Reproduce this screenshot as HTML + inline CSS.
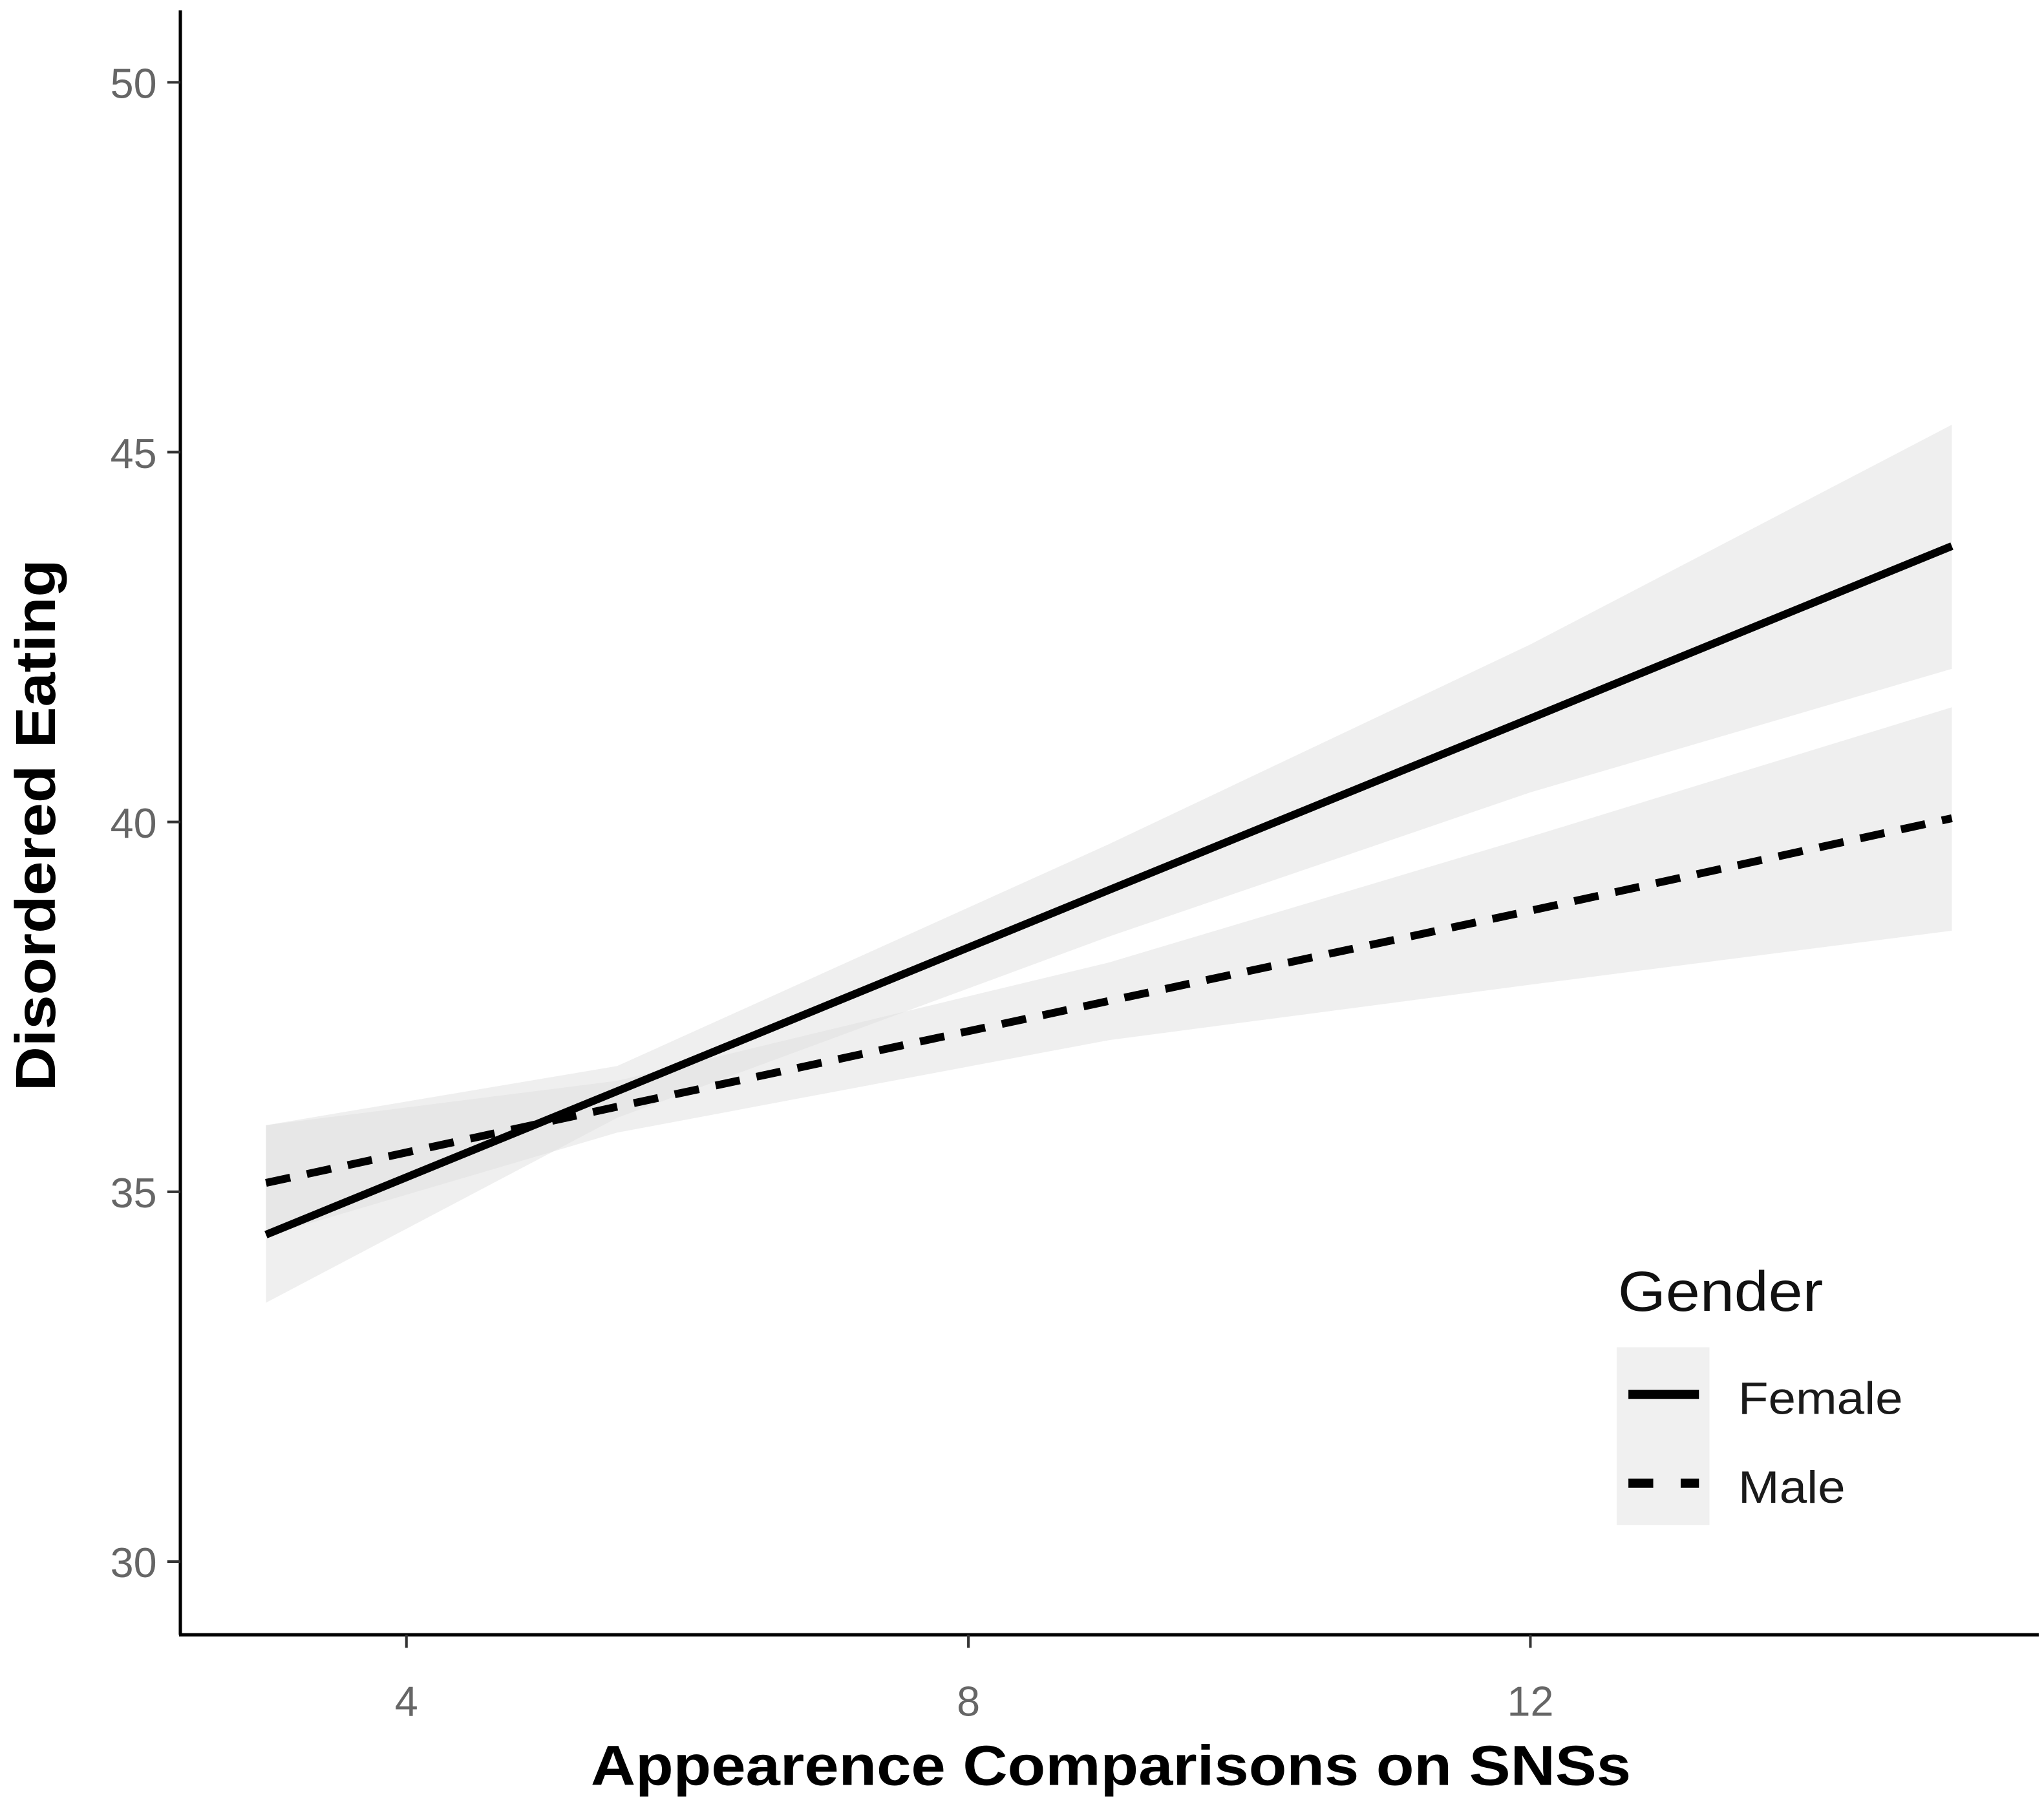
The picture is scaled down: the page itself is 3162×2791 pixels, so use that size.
<!DOCTYPE html>
<html><head><meta charset="utf-8"><style>
html,body{margin:0;padding:0;background:#fff;}
svg{display:block;font-family:"Liberation Sans",Arial,sans-serif;}
</style></head><body>
<svg id="chart" width="3162" height="2791" viewBox="0 0 1564 1380.5" xmlns="http://www.w3.org/2000/svg">
<g id="bands"></g>
<g id="lines"></g>
<g id="axes"></g>
<g>
  <text x="1238" y="1003" font-size="43" textLength="157" lengthAdjust="spacingAndGlyphs" fill="#111">Gender</text>
  <rect x="1237" y="1031" width="71" height="136" fill="#f0f0f0"/>
  <line x1="1246" y1="1067" x2="1300" y2="1067" stroke="#000" stroke-width="7"/>
  <line x1="1246" y1="1135" x2="1300" y2="1135" stroke="#000" stroke-width="7" stroke-dasharray="19,21"/>
  <text x="1330" y="1082" font-size="35" textLength="126" lengthAdjust="spacingAndGlyphs" fill="#1a1a1a">Female</text>
  <text x="1330" y="1150" font-size="35" textLength="82" lengthAdjust="spacingAndGlyphs" fill="#1a1a1a">Male</text>
</g>
<text x="452" y="1366" font-size="43" font-weight="bold" textLength="796" lengthAdjust="spacingAndGlyphs" fill="#000">Appearence Comparisons on SNSs</text>
<text transform="translate(42,835) rotate(-90)" font-size="43" font-weight="bold" textLength="407" lengthAdjust="spacingAndGlyphs" fill="#000">Disordered Eating</text>
</svg>
<script>
const xPoints = [3, 5.5, 9, 12, 15];
const femaleFit = [34.42, 36.36, 39.08, 41.40, 43.73];
const femaleLower = [33.5, 36.0, 38.45, 40.4, 42.07];
const femaleUpper = [35.9, 36.7, 39.7, 42.4, 45.37];
const maleFit = [35.12, 36.15, 37.58, 38.80, 40.05];
const maleLower = [34.4, 35.8, 37.05, 37.8, 38.53];
const maleUpper = [35.9, 36.5, 38.1, 39.8, 41.55];
const xTicks = [4, 8, 12];
const yTicks = [30, 35, 40, 45, 50];

const NS = "http://www.w3.org/2000/svg";
const sx = v => 311 + (v - 4) * (430 / 4);
const sy = v => 63 + (50 - v) * (283 / 5);
function mk(tag, attrs, parent) {
  const e = document.createElementNS(NS, tag);
  for (const k in attrs) e.setAttribute(k, attrs[k]);
  parent.appendChild(e);
  return e;
}
const bands = document.getElementById('bands');
const lines = document.getElementById('lines');
const axes = document.getElementById('axes');

function band(lo, hi, name) {
  let d = xPoints.map((x, i) => (i ? 'L' : 'M') + sx(x) + ',' + sy(hi[i])).join('');
  for (let i = xPoints.length - 1; i >= 0; i--) d += 'L' + sx(xPoints[i]) + ',' + sy(lo[i]);
  const p = mk('path', {d: d + 'Z', fill: '#e0e0e0', 'fill-opacity': '0.5'}, bands);
  
  
}
band(femaleLower, femaleUpper, 'female-ci-band');
band(maleLower, maleUpper, 'male-ci-band');

function line(fit, dash, name) {
  const pts = xPoints.map((x, i) => sx(x) + ',' + sy(fit[i])).join(' ');
  const attrs = {points: pts, fill: 'none', stroke: '#000', 'stroke-width': 6};
  if (dash) attrs['stroke-dasharray'] = dash;
  const p = mk('polyline', attrs, lines);
  
  
}
line(femaleFit, null, 'female-line');
line(maleFit, '19,13', 'male-line');

const ya = mk('line', {x1: 138, y1: 8, x2: 138, y2: 1251, stroke: '#000', 'stroke-width': 2.5}, axes);


const xa = mk('line', {x1: 137, y1: 1251, x2: 1560, y2: 1251, stroke: '#000', 'stroke-width': 2.5}, axes);



yTicks.forEach(v => {
  const t = mk('line', {x1: 128, y1: sy(v), x2: 138, y2: sy(v), stroke: '#333', 'stroke-width': 2}, axes);
  
  
  const l = mk('text', {x: 120, y: sy(v) + 12, 'font-size': 32, fill: '#666', 'text-anchor': 'end'}, axes);
  l.textContent = v;
  
  
});
xTicks.forEach(v => {
  const t = mk('line', {x1: sx(v), y1: 1251, x2: sx(v), y2: 1261, stroke: '#333', 'stroke-width': 2}, axes);
  
  
  const l = mk('text', {x: sx(v), y: 1313, 'font-size': 32, fill: '#666', 'text-anchor': 'middle'}, axes);
  l.textContent = v;
  
  
});
</script>
</body></html>
